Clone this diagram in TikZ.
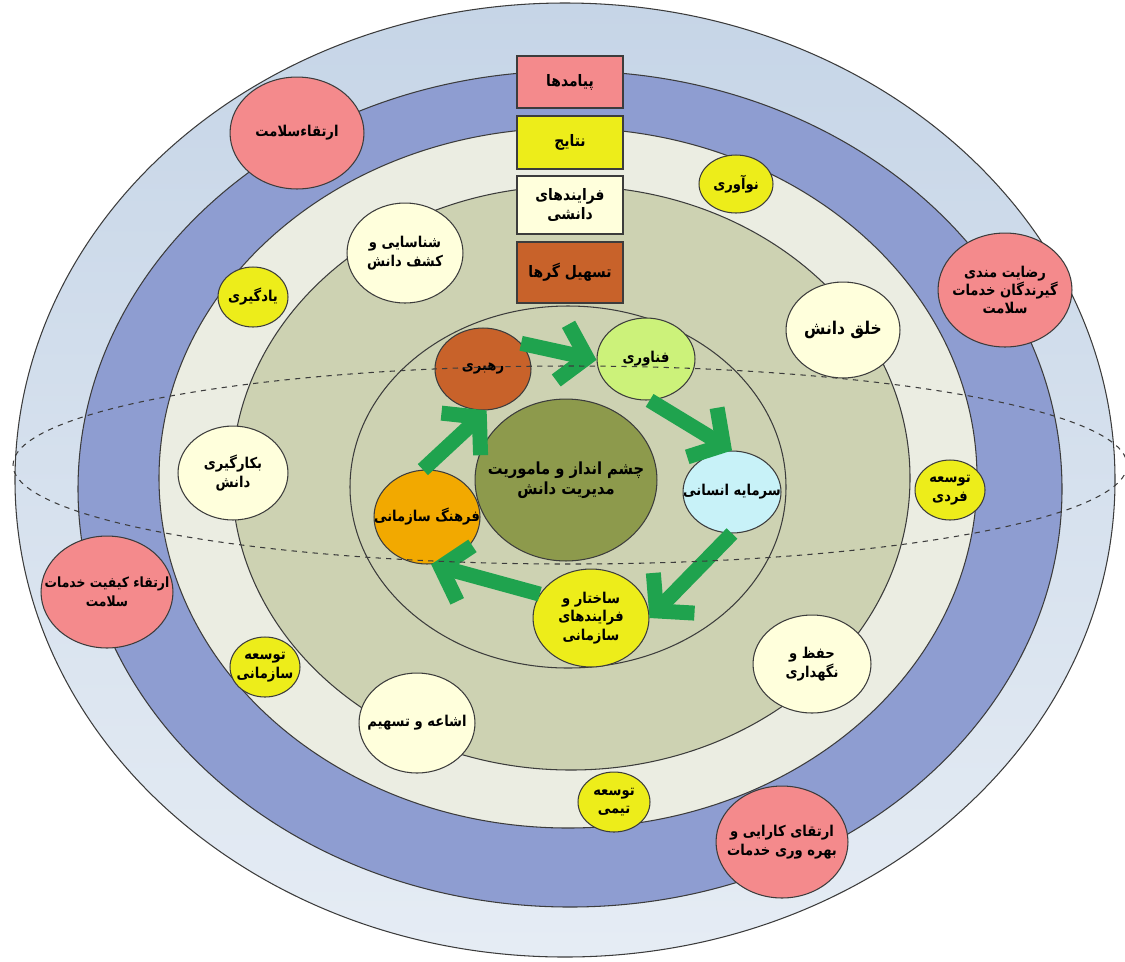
\documentclass[tikz,border=0pt]{standalone}
\usepackage{fontspec}
\newfontfamily\arabicfont[Script=Arabic, FakeStretch=0.88]{DejaVu Sans}
\TeXXeTstate=1
\usetikzlibrary{shapes.geometric, arrows.meta}

\newcommand{\rl}[1]{\makebox[0pt]{\beginR#1\endR}}

\definecolor{linegray}{HTML}{3C3C3C}
\definecolor{bandpale}{HTML}{C6D5E7}
\definecolor{bandblue}{HTML}{8E9DD1}
\definecolor{bandlight}{HTML}{EBEDE2}
\definecolor{bandolive}{HTML}{CDD2B2}
\definecolor{coreolive}{HTML}{8D9A4C}
\definecolor{outpink}{HTML}{F48A8C}
\definecolor{resyellow}{HTML}{EDED1A}
\definecolor{proccream}{HTML}{FFFFDC}
\definecolor{leadbrown}{HTML}{C8622A}
\definecolor{techlime}{HTML}{CCF27A}
\definecolor{capcyan}{HTML}{C8F2F8}
\definecolor{cultgold}{HTML}{F2A900}
\definecolor{flowgreen}{HTML}{1FA34E}

\begin{document}
\begin{tikzpicture}[
		x = 0.02cm,
		y = -0.02cm,
		ring/.style = {
			draw = linegray,
			line width = 0.6pt
		},
		bub/.style = {
			draw = linegray,
			ellipse,
			line width = 0.6pt,
			inner sep = 0,
			align = center,
			font = \arabicfont\bfseries\fontsize{8.5}{10.5}\selectfont
		},
		bsize/.style 2 args = {
			minimum width = #1*0.04cm,
			minimum height = #2*0.04cm
		},
		outc/.style = {bub, fill = outpink},
		res/.style = {bub, fill = resyellow},
		proc/.style = {bub, fill = proccream},
		tag/.style = {
			draw = linegray,
			rectangle,
			line width = 0.6pt,
			inner sep = 0,
			minimum width = 2.12cm,
			align = center,
			font = \arabicfont\bfseries\fontsize{9}{11}\selectfont
		},
		flow/.style = {
			draw = flowgreen,
			line width = 0.3cm,
			-{Straight Barb[length = 0.5cm, width = 1.15cm]}
		}
	]
	\useasboundingbox (0, 0) rectangle (1125, 961);

	% rings
	\shade [top color = bandpale, bottom color = bandpale!45!white] (565, 480) ellipse [x radius = 550, y radius = 477];
	\draw [ring] (565, 480) ellipse [x radius = 550, y radius = 477];
	\filldraw [ring, fill = bandblue]  (570, 489) ellipse [x radius = 492, y radius = 418];
	\filldraw [ring, fill = bandlight] (568, 478) ellipse [x radius = 409, y radius = 350];
	\filldraw [ring, fill = bandolive] (571, 478) ellipse [x radius = 339, y radius = 292];
	\filldraw [ring, fill = bandolive] (568, 487) ellipse [x radius = 218, y radius = 181];

	% legend boxes
	\node [tag, fill = outpink, minimum height = 1.04cm] (outbox) at (570, 82) {\rl{پیامدها}};
	\node [tag, fill = resyellow, minimum height = 1.06cm] (resbox) at (570, 142.5) {\rl{نتایج}};
	\node [tag, fill = proccream, minimum height = 1.16cm] (procbox) at (570, 205) {\rl{فرایندهای}\\\rl{دانشی}};
	\node [tag, fill = leadbrown, minimum height = 1.22cm] (enabbox) at (570, 272.5) {\rl{تسهیل گرها}};

	% outcomes
	\node [outc, bsize = {67}{56}] (hlth) at (297, 133) {\rl{ارتقاءسلامت}};
	\node [outc, bsize = {67}{57}] (satf) at (1005, 290) {\rl{رضایت مندی}\\\rl{گیرندگان خدمات}\\\rl{سلامت}};
	\node [outc, bsize = {66}{56}, font = \arabicfont\bfseries\fontsize{8}{10.5}\selectfont] (qual) at (107, 592) {\rl{ارتقاء کیفیت خدمات}\\\rl{سلامت}};
	\node [outc, bsize = {66}{56}] (effc) at (782, 842) {\rl{ارتقای کارایی و}\\\rl{بهره وری خدمات}};

	% results
	\node [res, bsize = {37}{29}] (innov) at (736, 184) {\rl{نوآوری}};
	\node [res, bsize = {35}{30}] (learn) at (253, 297) {\rl{یادگیری}};
	\node [res, bsize = {35}{30}] (indv) at (950, 490) {\rl{توسعه}\\\rl{فردی}};
	\node [res, bsize = {35}{30}] (orgd) at (265, 667) {\rl{توسعه}\\\rl{سازمانی}};
	\node [res, bsize = {36}{30}] (team) at (614, 802) {\rl{توسعه}\\\rl{تیمی}};

	% knowledge processes
	\node [proc, bsize = {58}{50}] (ident) at (405, 253) {\rl{شناسایی و}\\\rl{کشف دانش}};
	\node [proc, bsize = {57}{48}, font = \arabicfont\bfseries\fontsize{10}{12}\selectfont] (creat) at (843, 330) {\rl{خلق دانش}};
	\node [proc, bsize = {55}{47}] (apply) at (233, 473) {\rl{بکارگیری}\\\rl{دانش}};
	\node [proc, bsize = {59}{49}] (keep) at (812, 664) {\rl{حفظ و}\\\rl{نگهداری}};
	\node [proc, bsize = {58}{50}] (share) at (417, 723) {\rl{اشاعه و تسهیم}};

	% enablers
	\node [bub, fill = coreolive, bsize = {91}{81}, font = \arabicfont\bfseries\fontsize{9.5}{11.5}\selectfont] (core) at (566, 480) {\rl{چشم انداز و ماموریت}\\\rl{مدیریت دانش}};
	\node [bub, fill = leadbrown, bsize = {48}{41}] (lead) at (483, 369) {\rl{رهبری}};
	\node [bub, fill = techlime, bsize = {49}{41}] (tech) at (646, 359) {\rl{فناوری}};
	\node [bub, fill = capcyan, bsize = {49}{41}] (cap) at (732, 492) {\rl{سرمایه انسانی}};
	\node [bub, fill = resyellow, bsize = {58}{49}] (struct) at (591, 618) {\rl{ساختار و}\\\rl{فرایندهای}\\\rl{سازمانی}};
	\node [bub, fill = cultgold, bsize = {53}{47}] (cult) at (427, 517) {\rl{فرهنگ سازمانی}};

	% cycle
	\draw [flow] (lead.34) -- (tech.181);
	\draw [flow] (tech.275) -- (cap.north);
	\draw [flow] (cap.south) -- (struct.east);
	\draw [flow] (struct.155) -- (cult.275);
	\draw [flow] (cult.95) -- (lead.275);

	\draw [dashed, draw = linegray, line width = 0.6pt] (570, 465) ellipse [x radius = 557, y radius = 99];
\end{tikzpicture}
\end{document}
